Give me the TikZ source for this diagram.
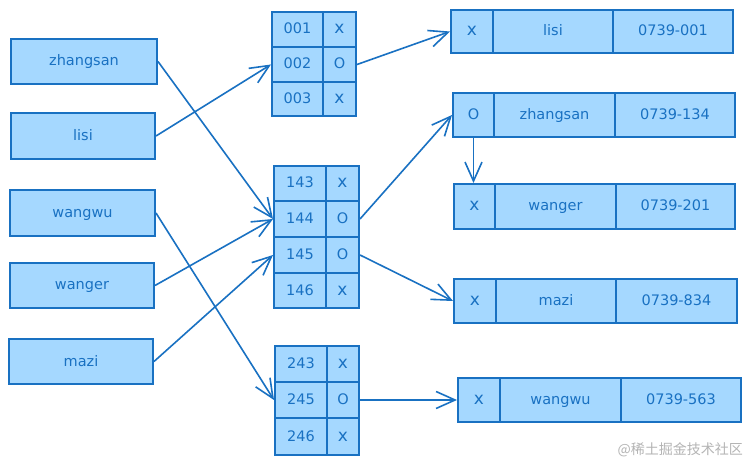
\documentclass[tikz,border=0pt]{standalone}
\usepackage{fontspec}
\setmainfont{DejaVu Sans}
\newfontfamily\cjkfont{Noto Sans CJK SC}
\usetikzlibrary{arrows.meta}
\definecolor{strokeblue}{HTML}{1971C2}
\definecolor{fillblue}{HTML}{A5D8FF}
\definecolor{wmgray}{HTML}{B4B4B4}
\tikzset{
  cell/.style={draw=strokeblue, fill=fillblue, line width=2pt, rectangle, inner sep=0pt,
    text=strokeblue, font=\fontsize{14.5}{17}\selectfont, text height=11pt, text depth=2pt},
  arr/.style={draw=strokeblue, line width=1.6pt,
    -{Straight Barb[length=19pt,width=17pt,line width=1.6pt]}},
}
\newcommand{\cellat}[7]{% name, x1, y1, x2, y2, text
  \node[cell, minimum width={(#4-#2)*1pt}, minimum height={(#5-#3)*1pt}] (#1) at ({(#2+#4)/2},{(#3+#5)/2}) {#6#7};}
\newcommand{\xmark}{{\fontsize{17}{17}\selectfont x}}
\begin{document}
\begin{tikzpicture}[x=1pt,y=-1pt]
\useasboundingbox (0,0) rectangle (750,465);
\fill[white] (0,0) rectangle (750,465);
% left boxes
\cellat{zs}{11}{39}{157}{84}{zhangsan}{}
\cellat{ls}{11}{113}{155}{159}{lisi}{}
\cellat{ww}{10}{190}{155}{236}{wangwu}{}
\cellat{wg}{10}{263}{154}{308}{wanger}{}
\cellat{mz}{9}{339}{153}{384}{mazi}{}
% middle table 1
\cellat{k001}{272}{12}{323}{47}{001}{}
\cellat{v001}{323}{12}{356}{47}{\xmark}{}
\cellat{k002}{272}{47}{323}{82}{002}{}
\cellat{v002}{323}{47}{356}{82}{O}{}
\cellat{k003}{272}{82}{323}{116}{003}{}
\cellat{v003}{323}{82}{356}{116}{\xmark}{}
% middle table 2
\cellat{k143}{274}{166}{326}{201}{143}{}
\cellat{v143}{326}{166}{359}{201}{\xmark}{}
\cellat{k144}{274}{201}{326}{237}{144}{}
\cellat{v144}{326}{201}{359}{237}{O}{}
\cellat{k145}{274}{237}{326}{273}{145}{}
\cellat{v145}{326}{237}{359}{273}{O}{}
\cellat{k146}{274}{273}{326}{308}{146}{}
\cellat{v146}{326}{273}{359}{308}{\xmark}{}
% middle table 3
\cellat{k243}{275}{346}{327}{382}{243}{}
\cellat{v243}{327}{346}{359}{382}{\xmark}{}
\cellat{k245}{275}{382}{327}{418}{245}{}
\cellat{v245}{327}{382}{359}{418}{O}{}
\cellat{k246}{275}{418}{327}{455}{246}{}
\cellat{v246}{327}{418}{359}{455}{\xmark}{}
% right tables
\cellat{ra1}{451}{10}{493}{53}{\xmark}{}
\cellat{ra2}{493}{10}{613}{53}{lisi}{}
\cellat{ra3}{613}{10}{733}{53}{0739-001}{}
\cellat{rb1}{453}{93}{494}{137}{O}{}
\cellat{rb2}{494}{93}{615}{137}{zhangsan}{}
\cellat{rb3}{615}{93}{735}{137}{0739-134}{}
\cellat{rc1}{454}{184}{495}{229}{\xmark}{}
\cellat{rc2}{495}{184}{616}{229}{wanger}{}
\cellat{rc3}{616}{184}{735}{229}{0739-201}{}
\cellat{rd1}{454}{279}{496}{323}{\xmark}{}
\cellat{rd2}{496}{279}{616}{323}{mazi}{}
\cellat{rd3}{616}{279}{737}{323}{0739-834}{}
\cellat{re1}{458}{378}{500}{422}{\xmark}{}
\cellat{re2}{500}{378}{621}{422}{wangwu}{}
\cellat{re3}{621}{378}{741}{422}{0739-563}{}
% arrows
\draw[arr] (zs.east) -- (k144.west);
\draw[arr] (ls.east) -- (k002.west);
\draw[arr] (ww.east) -- (k245.west);
\draw[arr] (wg.east) -- (k144.west);
\draw[arr] (mz.east) -- (k145.west);
\draw[arr] (v002.east) -- (ra1.west);
\draw[arr] (v144.east) -- (rb1.west);
\draw[arr] (v145.east) -- (rd1.west);
\draw[arr] (rb1.south) -- (rb1.south |- rc1.north);
\draw[arr] (v245.east) -- (re1.west);
% watermark
\node[text=wmgray, font=\cjkfont\fontsize{14}{16}\selectfont, anchor=east, inner sep=0pt] (wm) at (743,450) {@稀土掘金技术社区};
\end{tikzpicture}
\end{document}
